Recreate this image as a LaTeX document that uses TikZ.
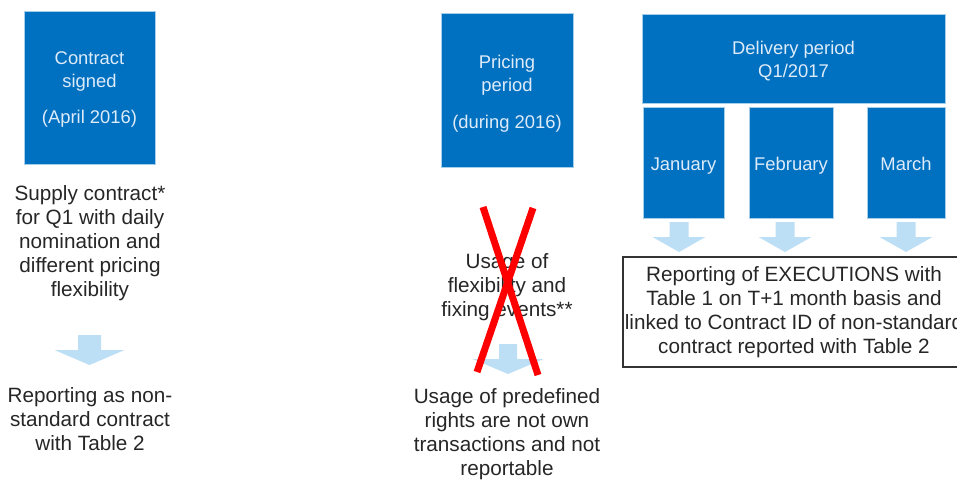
\documentclass[tikz,border=0pt]{standalone}
\usepackage{fontspec}
\setmainfont{Liberation Sans}
\usepackage{xcolor}
\usepackage{tikz}

\definecolor{boxblue}{RGB}{0,112,192}
\definecolor{boxtext}{RGB}{222,235,249}
\definecolor{arrowblue}{RGB}{189,223,246}

% block arrow pointing down: x, top y, half shaft width, half head width
\newcommand{\blockarrow}[4]{%
	\fill[arrowblue] (#1-#3,#2) -- (#1+#3,#2) -- (#1+#3,#2+15) -- (#1+#4,#2+15)
		-- (#1,#2+30) -- (#1-#4,#2+15) -- (#1-#3,#2+15) -- cycle;
}
% strut to push box text a little down
\newcommand{\lift}[1]{\rule{0pt}{#1pt}}

\begin{document}
\begin{tikzpicture}[x=1pt, y=-1pt,
	bluebox/.style={fill=boxblue, draw=boxblue!35!white, line width=0.6, text=boxtext,
		align=center, inner sep=0, font=\fontsize{18.4}{23}\selectfont},
	bodytext/.style={align=center, text=black!85, inner sep=0,
		font=\fontsize{20.7}{24}\selectfont},
	cross/.style={color=red, line width=7}]

\useasboundingbox (0,0) rectangle (957,482);
\clip (0,0) rectangle (957,482);

\node[bluebox, minimum width=131, minimum height=153] (signed) at (89.5,87.5) {\lift{17.5}Contract\\signed\\[13pt](April 2016)};
\node[bluebox, minimum width=132, minimum height=154] (pricing) at (507,90) {\lift{21.5}Pricing\\period\\[14pt](during 2016)};
\node[bluebox, minimum width=303, minimum height=89] (delivery) at (793.5,58.5) {\lift{17.5}Delivery period\\Q1/2017};

\foreach \name/\x/\w/\month in {jan/683.5/81/January, feb/791/84/February, mar/906/78/March}{
	\node[bluebox, minimum width=\w, minimum height=111, text height=20, text depth=4] (\name) at (\x,162.5) {\month};
}

\node[bodytext] (supply) at (90,243) {Supply contract*\\for Q1 with daily\\nomination and\\different pricing\\flexibility};
\node[bodytext] (nonstd) at (90,419) {Reporting as non-\\standard contract\\with Table 2};

\node[bodytext] (usage) at (507,287) {Usage of\\flexibility and\\fixing events**};
\node[bodytext] (rights) at (507,434) {Usage of predefined\\rights are not own\\transactions and not\\reportable};

\node[bodytext, draw=black!80, line width=1.2, minimum width=342, minimum height=110] (exec) at (794,312)
	{Reporting of EXECUTIONS with\\Table 1 on T+1 month basis and\\linked to Contract ID of non-standard\\contract reported with Table 2};

\blockarrow{89.5}{335}{11.5}{35}
\blockarrow{508}{344}{9}{35.5}
\foreach \x in {679,785,906}{
	\blockarrow{\x}{222}{9.5}{26.5}
}

% crossed out
\draw[cross] (483,207) -- (538,375);
\draw[cross] (533,208) -- (477,372);

\end{tikzpicture}
\end{document}
